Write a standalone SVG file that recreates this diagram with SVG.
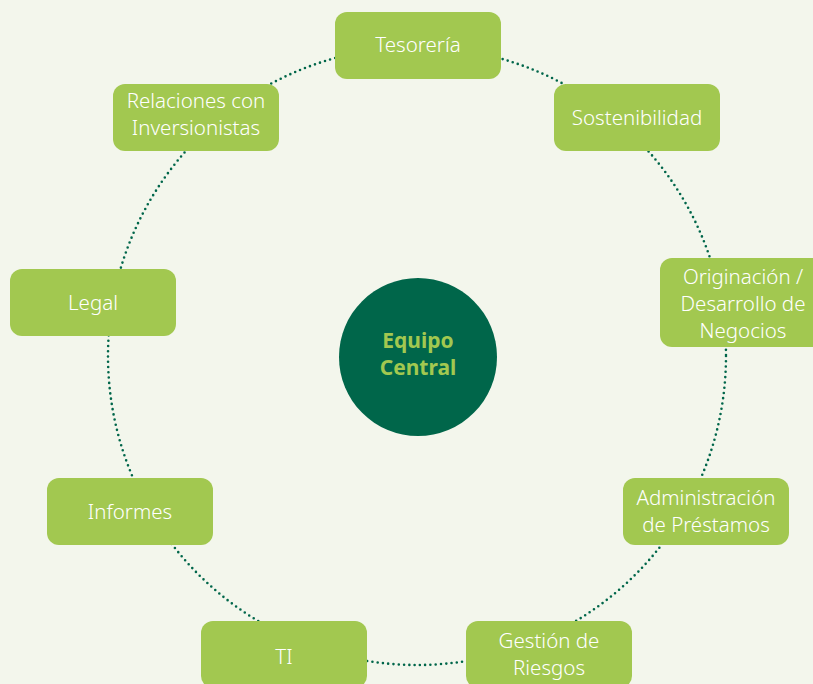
<svg xmlns="http://www.w3.org/2000/svg" width="813" height="684" viewBox="0 0 813 684">
<style>
.bg{fill:#f3f6ec}
.box{fill:#a2c850}
.t{font-family:"Noto Sans","Open Sans","Liberation Sans",sans-serif;font-size:20.5px;font-weight:300;fill:#ffffff;text-anchor:middle}
.ring{fill:none;stroke:#00664a;stroke-width:2.6;stroke-dasharray:0 5.3;stroke-linecap:round}
.core{fill:#00664a}
.ct{font-family:"Noto Sans","Open Sans","Liberation Sans",sans-serif;font-size:21px;font-weight:bold;fill:#a2c850;text-anchor:middle}
</style>
<rect class="bg" x="0" y="0" width="813" height="684"/>
<g id="connectors">
<circle class="ring" cx="417" cy="356" r="309"/>
</g>
<g id="center">
<circle class="core" cx="418" cy="357" r="79"/>
<text class="ct" x="418" y="348">Equipo</text>
<text class="ct" x="418" y="375">Central</text>
</g>
<g id="tesoreria">
<rect class="box" x="335" y="12" width="166" height="67" rx="12"/>
<text class="t" x="418" y="52">Tesorería</text>
</g>
<g id="sostenibilidad">
<rect class="box" x="554" y="84" width="166" height="67" rx="12"/>
<text class="t" x="637" y="125">Sostenibilidad</text>
</g>
<g id="originacion">
<rect class="box" x="660" y="258" width="166" height="89" rx="12"/>
<text class="t" x="743" y="284">Originación /</text>
<text class="t" x="743" y="311">Desarrollo de</text>
<text class="t" x="743" y="338">Negocios</text>
</g>
<g id="administracion">
<rect class="box" x="623" y="478" width="166" height="67" rx="12"/>
<text class="t" x="706" y="505">Administración</text>
<text class="t" x="706" y="532">de Préstamos</text>
</g>
<g id="riesgos">
<rect class="box" x="466" y="621" width="166" height="67" rx="12"/>
<text class="t" x="549" y="648">Gestión de</text>
<text class="t" x="549" y="675">Riesgos</text>
</g>
<g id="ti">
<rect class="box" x="201" y="621" width="166" height="67" rx="12"/>
<text class="t" x="284" y="664">TI</text>
</g>
<g id="informes">
<rect class="box" x="47" y="478" width="166" height="67" rx="12"/>
<text class="t" x="130" y="519">Informes</text>
</g>
<g id="legal">
<rect class="box" x="10" y="269" width="166" height="67" rx="12"/>
<text class="t" x="93" y="310">Legal</text>
</g>
<g id="relaciones">
<rect class="box" x="113" y="84" width="166" height="67" rx="12"/>
<text class="t" x="196" y="108">Relaciones con</text>
<text class="t" x="196" y="135">Inversionistas</text>
</g>
</svg>
